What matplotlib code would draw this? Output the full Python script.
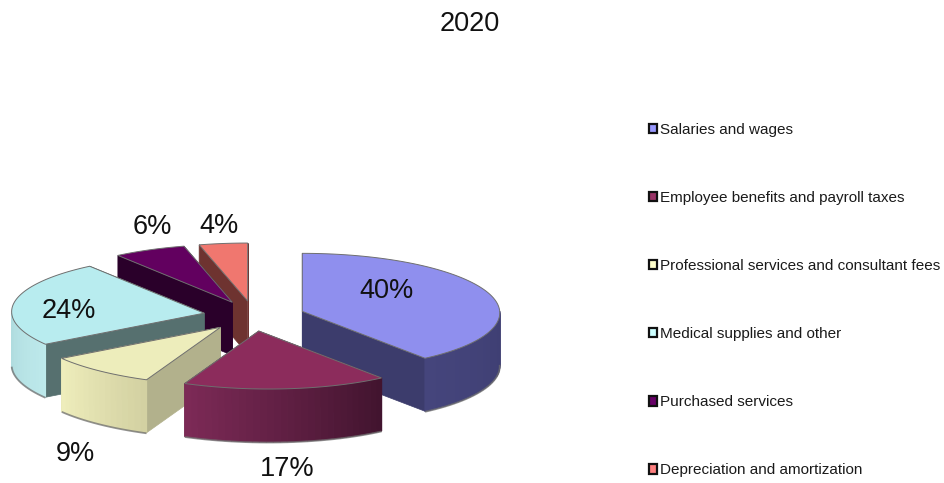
import numpy as np
import matplotlib
matplotlib.use("Agg")
import matplotlib.pyplot as plt
from matplotlib.colors import to_rgb
from matplotlib.patches import Patch, Polygon

plt.rcParams['font.family'] = ['Liberation Sans', 'DejaVu Sans']

# Share of total expenses, 2020
title = "2020"
categories = [
    "Salaries and wages",
    "Employee benefits and payroll taxes",
    "Professional services and consultant fees",
    "Medical supplies and other",
    "Purchased services",
    "Depreciation and amortization",
]
shares = [40, 17, 9, 24, 6, 4]

top_colors = ["#8f8fee", "#8c2c5c", "#ededbb", "#b8ecef", "#62005f", "#f0776f"]
legend_colors = ["#9999ff", "#993366", "#ffffcc", "#ccffff", "#660066", "#ff8080"]
radial_colors = ["#3c3c6c", "#5c1c3c", "#b2b18c", "#56706f", "#2a002a", "#6e3330"]
# Rim shading, from the clockwise-first end of the visible rim to the last
rim_shades = [("#3e3e72", "#45457c"), ("#42142f", "#7c2a56"), ("#d3d1a2", "#eeedbb"),
              ("#bde9eb", "#b0dcdf"), ("#2a002a", "#2a002a"), ("#6e3330", "#6e3330")]

# Pie geometry in figure pixels
cx, cy = 254, 316
rx, ry = 195, 58
depth = 53
explode = 0.26
front_skew = 10
draw_order = [5, 4, 3, 0, 2, 1]
label_xy = [(387, 291), (287, 469), (75, 454), (69, 311), (152, 227), (219, 226)]

fig = plt.figure(figsize=(9.45, 4.83), dpi=100)
ax = fig.add_axes([0, 0, 1, 1])
ax.set_xlim(0, 945)
ax.set_ylim(483, 0)
ax.axis("off")


def rim_point(angle, tip):
    # The near side of the pie leans slightly to the right
    lean = front_skew * ((1 - np.cos(angle)) / 2) ** 2
    return tip[0] + rx * np.sin(angle) + lean, tip[1] - ry * np.cos(angle)


def draw_slice(start, stop, index):
    mid = (start + stop) / 2
    tip = (cx + explode * rx * np.sin(mid), cy - explode * ry * np.cos(mid))
    edge = "#6f6f6f"

    # Radial walls go first so the rim and the top cover whichever faces away
    for angle in (start, stop):
        px, py = rim_point(angle, tip)
        ax.add_patch(Polygon([tip, (px, py), (px, py + depth), (tip[0], tip[1] + depth)],
                             closed=True, facecolor=radial_colors[index],
                             edgecolor=radial_colors[index], linewidth=0.5))

    # Outer wall: only the part facing the viewer, shaded in narrow bands
    lo, hi = max(start, np.pi / 2), min(stop, 3 * np.pi / 2)
    if hi > lo:
        steps = max(int((hi - lo) / np.radians(2)), 2)
        angles = np.linspace(lo, hi, steps + 1)
        c0, c1 = (np.array(to_rgb(c)) for c in rim_shades[index])
        for i in range(steps):
            x0, y0 = rim_point(angles[i], tip)
            x1, y1 = rim_point(angles[i + 1], tip)
            shade = c0 + (c1 - c0) * i / max(steps - 1, 1)
            ax.add_patch(Polygon([(x0, y0), (x1, y1), (x1, y1 + depth), (x0, y0 + depth)],
                                 closed=True, facecolor=shade, edgecolor=shade, linewidth=0.9))
        bx, by = rim_point(angles, tip)
        ax.plot(bx, by + depth + 0.5, color=edge, lw=1.3, alpha=0.75, solid_capstyle="butt")

    # Top face
    arc = np.linspace(start, stop, 80)
    ax_, ay_ = rim_point(arc, tip)
    outline = np.vstack([[tip], np.column_stack([ax_, ay_])])
    ax.add_patch(Polygon(outline, closed=True, facecolor=top_colors[index],
                         edgecolor=edge, linewidth=0.7))


fractions = np.cumsum([0] + shares) / sum(shares) * 2 * np.pi
for idx in draw_order:
    draw_slice(fractions[idx], fractions[idx + 1], idx)

for share, (lx, ly) in zip(shares, label_xy):
    ax.text(lx, ly, f"{share}%", ha="center", va="center", fontsize=19.5, color="#111111")

ax.text(469.5, 24, title, ha="center", va="center", fontsize=19.5, color="#111111")

handles = [Patch(facecolor=c, edgecolor="#111111", linewidth=1.6) for c in legend_colors]
ax.legend(handles, categories, loc="upper left", bbox_to_anchor=(649 / 945, 1 - 123 / 483),
          frameon=False, fontsize=11, labelspacing=3.54, handlelength=0.55, handleheight=0.55,
          handletextpad=0.16, borderpad=0, borderaxespad=0, labelcolor="#1a1a1a")

fig.savefig("out.png", dpi=100)
